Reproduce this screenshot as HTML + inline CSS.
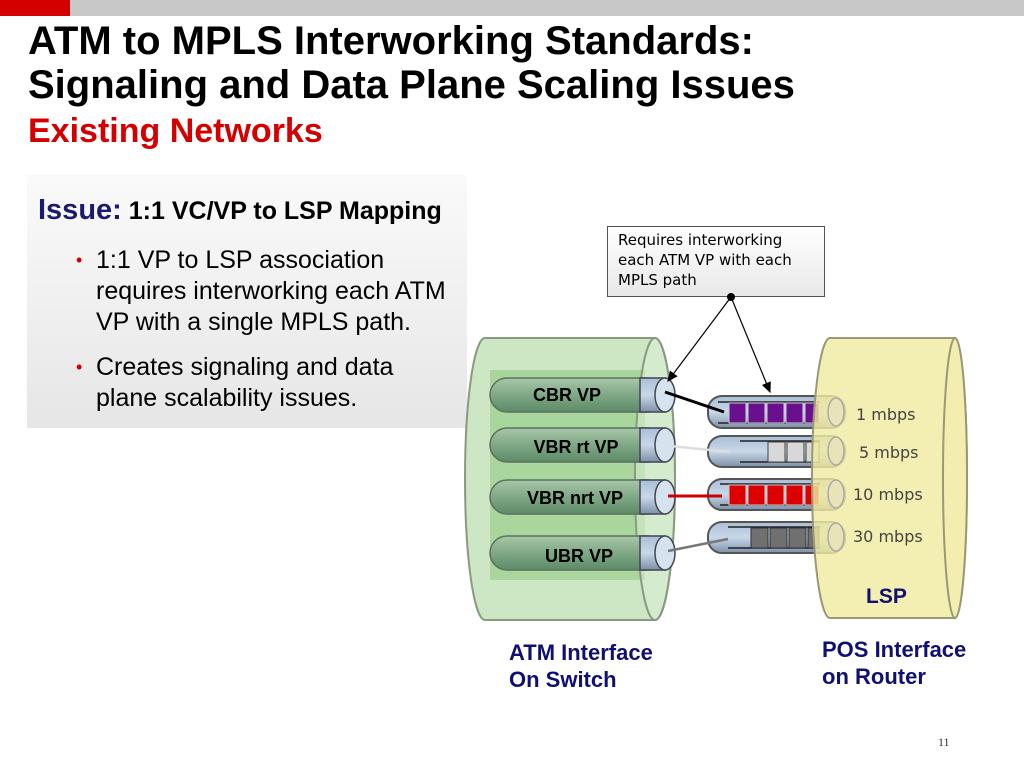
<!DOCTYPE html>
<html><head><meta charset="utf-8"><style>
body{margin:0;width:1024px;height:768px;overflow:hidden;background:#fff;font-family:"Liberation Sans",Arial,sans-serif;position:relative}
.a{position:absolute;white-space:nowrap}
</style></head><body>
<div class="a" style="left:0;top:0;width:70px;height:16px;background:#d40000"></div>
<div class="a" style="left:70px;top:0;width:954px;height:16px;background:#c8c8c8"></div>
<div class="a" style="left:28px;top:19px;font-size:40px;font-weight:bold;line-height:44px;color:#000">ATM to MPLS Interworking Standards:<br>Signaling and Data Plane Scaling Issues</div>
<div class="a" style="left:28px;top:112px;font-size:34px;font-weight:bold;color:#d40000">Existing Networks</div>
<div class="a" style="left:27px;top:175px;width:440px;height:253px;background:linear-gradient(#fafafa,#e6e6e6)"></div>
<div class="a" style="left:38px;top:194px;font-size:25px;font-weight:bold;color:#000"><span style="color:#1a1a6e;font-size:29px">Issue:</span> 1:1 VC/VP to LSP Mapping</div>
<div class="a" style="left:76px;top:245px;font-size:25px;line-height:31px;color:#000"><span style="color:#c00;position:absolute;left:0;font-size:18px">•</span><div style="margin-left:20px">1:1 VP to LSP association<br>requires interworking each ATM<br>VP with a single MPLS path.</div></div>
<div class="a" style="left:76px;top:352px;font-size:25px;line-height:31px;color:#000"><span style="color:#c00;position:absolute;left:0;font-size:18px">•</span><div style="margin-left:20px">Creates signaling and data<br>plane scalability issues.</div></div>
<div class="a" style="left:607px;top:226px;width:218px;height:71px;border:1px solid #555;background:linear-gradient(#fff,#e8e8e8);font-family:'DejaVu Sans',sans-serif;font-size:15px;line-height:20px;padding:3px 0 0 10px;box-sizing:border-box;color:#000">Requires interworking<br>each ATM VP with each<br>MPLS path</div>
<svg class="a" style="left:0;top:0" width="1024" height="768">
<defs>
<marker id="ar" markerWidth="10" markerHeight="10" refX="8" refY="5" orient="auto"><path d="M0,1 L9,5 L0,9 z" fill="#000"/></marker>
<linearGradient id="vp" x1="0" y1="0" x2="0" y2="1"><stop offset="0" stop-color="#a8c8a8"/><stop offset="0.5" stop-color="#7fa886"/><stop offset="1" stop-color="#5e8a68"/></linearGradient>
<linearGradient id="tb" x1="0" y1="0" x2="0" y2="1"><stop offset="0" stop-color="#a9bed6"/><stop offset="0.5" stop-color="#c8d8e8"/><stop offset="1" stop-color="#7c90a8"/></linearGradient>
</defs>
<path d="M485,338 L655,338 A20,141 0 0 1 655,620 L485,620 A20,141 0 0 1 485,338 z" fill="#cde6c4" stroke="#8a9a80" stroke-width="2"/>
<rect x="490" y="370" width="155" height="210" fill="#a9d69c"/>
<ellipse cx="655" cy="479" rx="20" ry="141" fill="#dcefd6" fill-opacity="0.5" stroke="#8a9a80" stroke-width="2"/>
<g stroke="#5a7060" stroke-width="1.5">
<rect x="490" y="378" width="175" height="34" rx="17" fill="url(#vp)"/>
<rect x="490" y="428" width="175" height="34" rx="17" fill="url(#vp)"/>
<rect x="490" y="480" width="175" height="34" rx="17" fill="url(#vp)"/>
<rect x="490" y="536" width="175" height="34" rx="17" fill="url(#vp)"/>
</g>
<g fill="url(#tb)" stroke="#445" stroke-width="1.5">
<rect x="640" y="378" width="25" height="34"/><rect x="640" y="428" width="25" height="34"/><rect x="640" y="480" width="25" height="34"/><rect x="640" y="536" width="25" height="34"/>
</g>
<g fill="#d6e2ee" stroke="#445" stroke-width="1.5">
<ellipse cx="665" cy="395" rx="10" ry="17"/><ellipse cx="665" cy="445" rx="10" ry="17"/><ellipse cx="665" cy="497" rx="10" ry="17"/><ellipse cx="665" cy="553" rx="10" ry="17"/>
</g>
<g font-size="18" font-weight="bold" fill="#000" text-anchor="middle">
<text x="567" y="401">CBR VP</text><text x="576" y="453">VBR rt VP</text><text x="575" y="504">VBR nrt VP</text><text x="579" y="562">UBR VP</text>
</g>
<g stroke="#555" stroke-width="2" fill="url(#tb)">
<rect x="708" y="396" width="137" height="32" rx="14"/><rect x="708" y="436" width="137" height="31" rx="14"/><rect x="708" y="479" width="137" height="31" rx="14"/><rect x="708" y="522" width="137" height="31" rx="14"/>
</g>
<g stroke="#222" stroke-width="1.5"><line x1="718" y1="402" x2="820" y2="402"/><line x1="718" y1="423" x2="820" y2="423"/><line x1="740" y1="441" x2="820" y2="441"/><line x1="740" y1="462" x2="820" y2="462"/><line x1="720" y1="484" x2="820" y2="484"/><line x1="720" y1="505" x2="820" y2="505"/><line x1="728" y1="527" x2="820" y2="527"/><line x1="728" y1="548" x2="820" y2="548"/></g>
<g stroke="#ccc" stroke-width="1">
<g fill="#6a0f8e"><rect x="729" y="403" width="17" height="20"/><rect x="748" y="403" width="17" height="20"/><rect x="767" y="403" width="17" height="20"/><rect x="786" y="403" width="17" height="20"/><rect x="805" y="403" width="14" height="20"/></g>
<g fill="#d8d8d8" stroke="#444"><rect x="768" y="442" width="17" height="20"/><rect x="787" y="442" width="17" height="20"/><rect x="806" y="442" width="13" height="20"/></g>
<g fill="#dd0000"><rect x="729" y="485" width="17" height="20"/><rect x="748" y="485" width="17" height="20"/><rect x="767" y="485" width="17" height="20"/><rect x="786" y="485" width="17" height="20"/><rect x="805" y="485" width="14" height="20"/></g>
<g fill="#707070" stroke="#333"><rect x="751" y="528" width="17" height="20"/><rect x="770" y="528" width="17" height="20"/><rect x="789" y="528" width="17" height="20"/><rect x="808" y="528" width="11" height="20"/></g>
</g>
<path d="M830,338 L955,338 A12,140 0 0 1 955,618 L830,618 A18,140 0 0 1 830,338 z" fill="#f0eaa0" fill-opacity="0.82" stroke="#999975" stroke-width="2"/>
<ellipse cx="955" cy="478" rx="12" ry="140" fill="#f3eeb0" stroke="#999975" stroke-width="2"/>
<g fill="#e8e4b8" stroke="#aaa" stroke-width="1.5"><ellipse cx="836" cy="412" rx="8" ry="14"/><ellipse cx="836" cy="451" rx="8" ry="14"/><ellipse cx="836" cy="494" rx="8" ry="14"/><ellipse cx="836" cy="537" rx="8" ry="14"/></g>
<g font-family="DejaVu Sans, sans-serif" font-size="16" fill="#444">
<text x="856" y="420">1 mbps</text><text x="859" y="458">5 mbps</text><text x="853" y="500">10 mbps</text><text x="853" y="542">30 mbps</text>
</g>
<text x="866" y="603" font-size="21" font-weight="bold" fill="#101070">LSP</text>
<line x1="665" y1="392" x2="724" y2="412" stroke="#000" stroke-width="3"/>
<line x1="670" y1="446" x2="730" y2="452" stroke="#ddd" stroke-width="2.5"/>
<line x1="668" y1="496" x2="722" y2="496" stroke="#c00" stroke-width="3"/>
<line x1="668" y1="551" x2="728" y2="539" stroke="#777" stroke-width="2.5"/>
<circle cx="731" cy="297" r="4" fill="#000"/>
<line x1="731" y1="297" x2="668" y2="381" stroke="#000" stroke-width="1.2" marker-end="url(#ar)"/>
<line x1="731" y1="297" x2="770" y2="392" stroke="#000" stroke-width="1.2" marker-end="url(#ar)"/>
<g font-size="22" font-weight="bold" fill="#101070">
<text x="509" y="660">ATM Interface</text><text x="509" y="687">On Switch</text>
<text x="822" y="657">POS Interface</text><text x="822" y="684">on Router</text>
</g>
<text x="938" y="746" font-family="Liberation Serif, serif" font-size="12" fill="#333">11</text>
</svg>
</body></html>
